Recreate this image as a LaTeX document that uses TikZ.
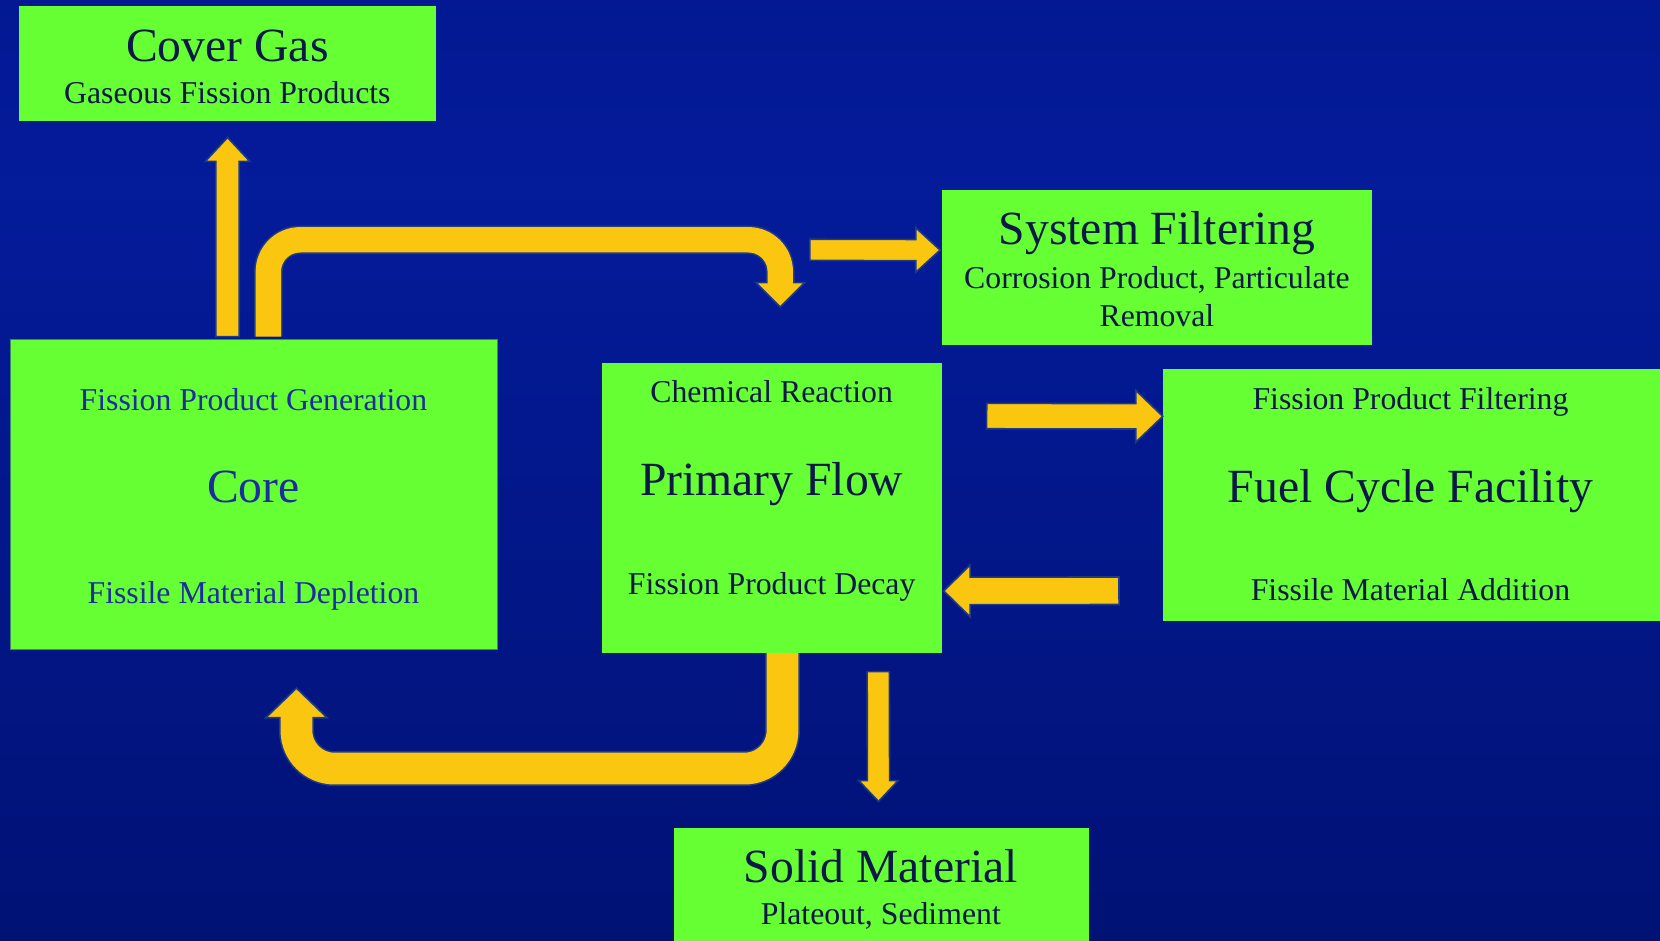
\documentclass[tikz,border=0pt]{standalone}
\usepackage{fontspec}
\setmainfont{Liberation Serif}
\usetikzlibrary{calc}

\definecolor{boxgreen}{HTML}{66FF33}
\definecolor{arrowyellow}{HTML}{FBC60F}
\definecolor{arrowedge}{HTML}{1E3C86}
\definecolor{inkdark}{HTML}{0C1848}
\definecolor{inkblue}{HTML}{1B2E9E}
\definecolor{bgtop}{HTML}{00107F}
\definecolor{bgmid}{HTML}{041B9A}
\definecolor{bglow}{HTML}{01137A}
\definecolor{bgbot}{HTML}{000A5A}
\pgfdeclareverticalshading{backdrop}{100bp}{color(0bp)=(bgbot); color(30bp)=(bglow); color(65bp)=(bgmid); color(100bp)=(bgtop)}

% straight block arrow: tail, tip, half shaft width, half head width, head length
\newcommand{\blkarrow}[5]{%
  \coordinate (hb) at ($(#2)!#5!(#1)$);
  \draw[blockarrow]
    ($(#1)!#3!90:(#2)$) -- ($(hb)!#3!90:(#2)$) -- ($(hb)!#4!90:(#2)$) -- (#2)
    -- ($(hb)!#4!-90:(#2)$) -- ($(hb)!#3!-90:(#2)$) -- ($(#1)!#3!-90:(#2)$) -- cycle;
}

\tikzset{
  panel/.style={fill=boxgreen, draw=none, inner sep=0pt, anchor=north west},
  bigtext/.style={font=\fontsize{45}{50}\selectfont, text=inkdark, anchor=base, inner sep=0pt},
  smalltext/.style={font=\fontsize{30}{34}\selectfont, text=inkdark, anchor=base, inner sep=0pt},
  blockarrow/.style={fill=arrowyellow, draw=arrowedge, line width=1.5pt, line join=miter},
}

\begin{document}
\begin{tikzpicture}[x=1pt, y=-1pt]
  \useasboundingbox (0,0) rectangle (1568,888);
  \clip (0,0) rectangle (1568,888);
  \shade[shading=backdrop] (0,0) rectangle (1568,888);

  % boxes
  \node[panel, minimum width=393.5pt, minimum height=109pt] (cover) at (18,5.5) {};
  \node[panel, draw=arrowedge!60!boxgreen, line width=1pt, minimum width=459.2pt, minimum height=292.8pt] (core) at (9.8,320.5) {};
  \node[panel, minimum width=321.7pt, minimum height=274pt] (prim) at (568,342.5) {};
  \node[panel, minimum width=405.6pt, minimum height=146.1pt] (sysf) at (890,179.5) {};
  \node[panel, minimum width=471.7pt, minimum height=237.5pt] (fuel) at (1098.3,348.5) {};
  \node[panel, minimum width=392pt, minimum height=113.5pt] (solid) at (636,781.5) {};

  % box texts
  \node[bigtext] (coverT) at (214.75,58.3) {Cover Gas};
  \node[smalltext] (coverS) at (214.75,98.2) {Gaseous Fission Products};

  \node[smalltext, text=inkblue] (coreA) at (239.4,388.2) {Fission Product Generation};
  \node[bigtext, text=inkblue] (coreT) at (239.4,474.8) {Core};
  \node[smalltext, text=inkblue] (coreB) at (239.4,569.9) {Fissile Material Depletion};

  \node[smalltext] (primA) at (728.9,380.3) {Chemical Reaction};
  \node[bigtext] (primT) at (728.9,467.6) {Primary Flow};
  \node[smalltext] (primB) at (728.9,562) {Fission Product Decay};

  \node[bigtext] (sysfT) at (1092.8,231.4) {System Filtering};
  \node[smalltext] (sysfA) at (1092.8,272.3) {Corrosion Product, Particulate};
  \node[smalltext] (sysfB) at (1092.8,308.6) {Removal};

  \node[smalltext] (fuelA) at (1332.3,387) {Fission Product Filtering};
  \node[bigtext] (fuelT) at (1332.3,474.8) {Fuel Cycle Facility};
  \node[smalltext] (fuelB) at (1332.3,567.4) {Fissile Material Addition};

  \node[bigtext] (solidT) at (832,833.7) {Solid Material};
  \node[smalltext] (solidS) at (832,873.7) {Plateout, Sediment};

  % core -> cover gas
  \coordinate (aS) at ($(cover.south |- core.north)+(0,-2.5)$);
  \coordinate (aT) at ($(cover.south)+(0,15)$);
  \blkarrow{aS}{aT}{11pt}{21pt}{22.5pt}

  % core -> primary flow (bent pipe over the top)
  \coordinate (bS) at ($(core.north)+(13.6,-2.5)$);
  \coordinate (bC) at (737,226.5);
  \coordinate (bH) at (737,267);
  \coordinate (bT) at (737,290);
  \draw[arrowedge, line width=27pt, rounded corners=30pt] (bS) |- (bC) -- (bH);
  \blkarrow{bH}{bT}{12pt}{23pt}{23pt}
  \draw[arrowyellow, line width=24pt, rounded corners=30pt] (bS) |- (bC) -- ($(bH)+(0,2)$);

  % primary flow -> system filtering
  \coordinate (cS) at (765,236);
  \coordinate (cT) at ($(sysf.west)+(-2,-16.5)$);
  \blkarrow{cS}{cT}{10pt}{21pt}{23pt}

  % primary flow -> fuel cycle facility
  \coordinate (dS) at (932,393);
  \coordinate (dT) at ($(fuel.west)+(0,-74.2)$);
  \blkarrow{dS}{dT}{12pt}{24.5pt}{25.5pt}

  % fuel cycle facility -> primary flow
  \coordinate (eS) at (1057,558);
  \coordinate (eT) at ($(prim.east)+(1.3,78.5)$);
  \blkarrow{eS}{eT}{13pt}{24.5pt}{25pt}

  % primary flow -> core (bent pipe underneath)
  \coordinate (fS) at ($(prim.south)+(10.1,0)$);
  \coordinate (fC) at (280,726);
  \coordinate (fH) at (280,678);
  \coordinate (fT) at (280,650);
  \draw[arrowedge, line width=33pt, rounded corners=36pt] (fS) |- (fC) -- (fH);
  \blkarrow{fH}{fT}{15pt}{29pt}{28pt}
  \draw[arrowyellow, line width=30pt, rounded corners=36pt] (fS) |- (fC) -- ($(fH)+(0,-2)$);

  % primary flow -> solid material
  \coordinate (gS) at (829.6,634.4);
  \coordinate (gT) at ($(solid.north)+(-2.4,-24.5)$);
  \blkarrow{gS}{gT}{10.5pt}{18.5pt}{19.6pt}
\end{tikzpicture}
\end{document}
